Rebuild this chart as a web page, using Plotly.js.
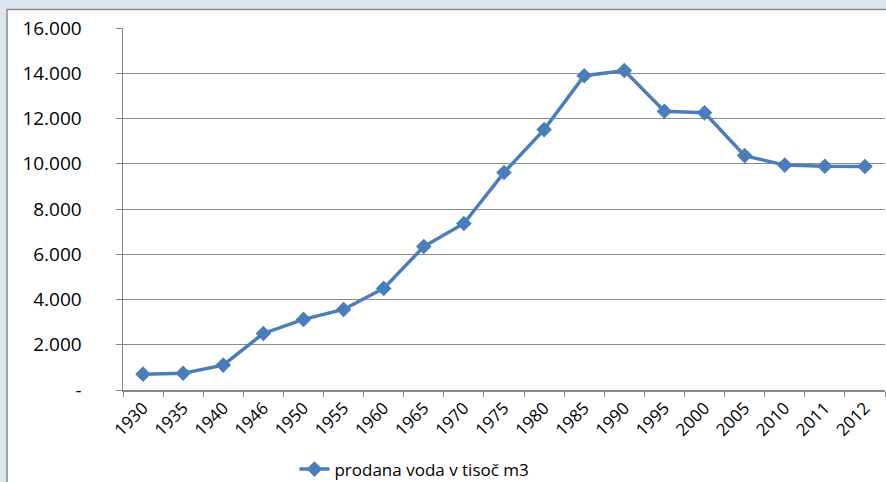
<!DOCTYPE html>
<html>
<head>
<meta charset="utf-8">
<script src="https://cdn.plot.ly/plotly-3.0.1.min.js"></script>
<style>html,body{margin:0;padding:0;background:#dde6f0;}#chart{width:886px;height:482px;}</style>
</head>
<body>
<div id="chart"></div>
<script>
const years = ["1930","1935","1940","1946","1950","1955","1960","1965","1970","1975","1980","1985","1990","1995","2000","2005","2010","2011","2012"];
const water = [700,740,1100,2500,3120,3560,4490,6340,7360,9610,11510,13890,14120,12320,12250,10360,9940,9890,9880];
const yTickVals = [0,2000,4000,6000,8000,10000,12000,14000,16000];
const yTickText = ["-","2.000","4.000","6.000","8.000","10.000","12.000","14.000","16.000"];
const seriesName = "prodana voda v tisoč m3";

const W = 886, H = 482;
const mL = 123, mR = 1, mT = 28, mB = 92;
const pw = W - mL - mR, ph = H - mT - mB;

const trace = {
  x: years, y: water, type: "scatter", mode: "lines+markers", name: seriesName,
  line: {color: "#4a7ebb", width: 3.5},
  marker: {symbol: "diamond", size: 12, color: "#4a7ebb"}
};

const layout = {
  width: W, height: H,
  margin: {l: mL, r: mR, t: mT, b: mB, autoexpand: false},
  paper_bgcolor: "#dde6f0",
  plot_bgcolor: "#ffffff",
  font: {family: "'Open Sans', sans-serif", color: "#000", size: 16},
  showlegend: true,
  legend: {orientation: "h", x: 0.225, y: -0.17, xanchor: "left", yanchor: "top",
           font: {size: 17}, bgcolor: "rgba(0,0,0,0)"},
  xaxis: {
    type: "category", tickson: "boundaries", ticks: "outside", ticklen: 5, tickcolor: "#888",
    showline: true, linecolor: "#888", linewidth: 1.5, showgrid: false, automargin: false,
    tickangle: -45, tickfont: {size: 17}, range: [-0.5, years.length - 0.5],
    fixedrange: true
  },
  yaxis: {
    range: [0, 16000], tickvals: yTickVals, ticktext: yTickText, automargin: false,
    ticks: "outside", ticklen: 6, tickcolor: "#888",
    showgrid: true, gridcolor: "#8c8c8c", gridwidth: 1,
    showline: true, linecolor: "#888", linewidth: 1.5, zeroline: false,
    tickfont: {size: 19}, ticklabelstandoff: 30, fixedrange: true
  },
  shapes: [{
    type: "rect", xref: "paper", yref: "paper", layer: "below",
    x0: (7 - mL) / pw, x1: 1.2, y0: -0.5, y1: 1 + (mT - 9.5) / ph,
    fillcolor: "#ffffff", line: {color: "#8a8a8a", width: 1.5}
  }]
};

Plotly.newPlot("chart", [trace], layout, {displayModeBar: false, staticPlot: true});
</script>
</body>
</html>
